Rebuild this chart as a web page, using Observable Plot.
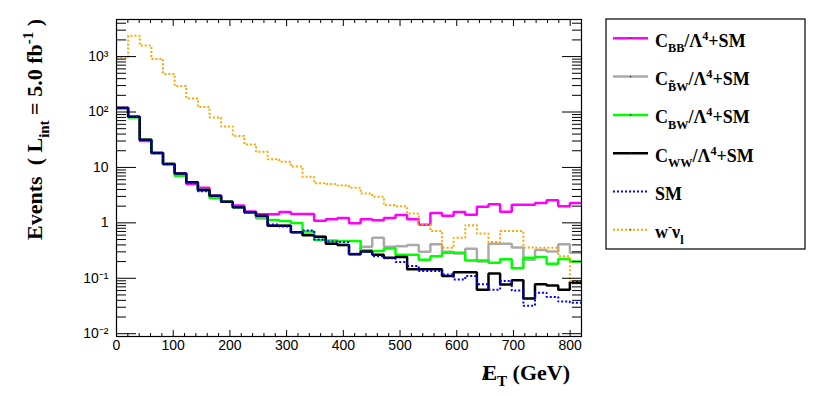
<!DOCTYPE html>
<html><head><meta charset="utf-8">
<script src="https://cdn.jsdelivr.net/npm/d3@7"></script>
<script src="https://cdn.jsdelivr.net/npm/@observablehq/plot@0.6"></script>
<style>body{margin:0;background:#fff} svg{display:block}</style>
</head><body><div id="chart"></div>
<script>
// Histogram binning (GeV): 40 bins from 0 to 820
const binStart = 0, binWidth = 20.5, nBins = 40;

// Events per bin
const cBB  = [121, 82, 30, 18.2, 11.5, 7.8, 5.0, 4.3, 3.07, 2.4, 2.05, 1.6, 1.43, 1.43, 1.57, 1.45, 1.45, 1.09, 1.16, 1.22, 0.98, 1.16, 1.12, 1.22, 1.38, 1.16, 0.92, 1.5, 1.35, 1.57, 1.4, 1.95, 2.17, 1.58, 2.13, 2.13, 2.27, 2.56, 2.0, 2.29];
const cBtW = [118, 82, 31.5, 18.5, 11.5, 7.8, 5.4, 3.9, 3.07, 2.4, 1.92, 1.55, 1.2, 0.9, 0.9, 0.68, 0.62, 0.56, 0.48, 0.4, 0.27, 0.37, 0.54, 0.37, 0.38, 0.4, 0.3, 0.41, 0.3, 0.28, 0.34, 0.2, 0.42, 0.42, 0.36, 0.215, 0.325, 0.305, 0.41, 0.29];
const cBW  = [118, 80, 31.5, 18.2, 11.5, 7.1, 5.4, 3.9, 2.8, 2.4, 1.92, 1.55, 1.26, 1.13, 1.08, 0.99, 0.7, 0.49, 0.47, 0.47, 0.47, 0.32, 0.31, 0.345, 0.265, 0.265, 0.217, 0.25, 0.29, 0.29, 0.21, 0.21, 0.19, 0.22, 0.152, 0.235, 0.242, 0.182, 0.222, 0.2];
const cWW  = [118, 82, 31.5, 18.2, 11.5, 7.8, 5.4, 3.9, 3.07, 2.4, 1.92, 1.55, 1.35, 0.89, 0.89, 0.68, 0.6, 0.56, 0.42, 0.4, 0.27, 0.305, 0.265, 0.234, 0.243, 0.145, 0.145, 0.145, 0.11, 0.128, 0.128, 0.062, 0.122, 0.077, 0.092, 0.043, 0.078, 0.074, 0.062, 0.085];
const sm   = [118, 82, 31.5, 18.2, 11.5, 7.8, 5.3, 3.7, 3.07, 2.4, 1.92, 1.55, 1.35, 0.93, 0.86, 0.68, 0.73, 0.5, 0.46, 0.45, 0.277, 0.3, 0.25, 0.23, 0.196, 0.166, 0.135, 0.135, 0.117, 0.095, 0.11, 0.078, 0.062, 0.089, 0.06, 0.032, 0.055, 0.046, 0.038, 0.036];
const wv   = [950, 2370, 1580, 908, 487, 295, 176, 123, 80, 55, 37, 26, 19.1, 14.1, 12.7, 10.4, 6.8, 5.2, 5.0, 4.7, 4.3, 3.37, 2.95, 2.08, 2.0, 1.47, 0.92, 0.71, 0.356, 0.54, 0.91, 0.64, 0.45, 0.71, 0.71, 0.36, 0.355, 0.355, 0.25, 0.089];

// Axis ticks
const xMajor = [0, 100, 200, 300, 400, 500, 600, 700, 800];
const xMajorLabels = ["0", "100", "200", "300", "400", "500", "600", "700", "800"];
const yMajor = [0.01, 0.1, 1, 10, 100, 1000];
const yMajorLabels = ["10\u207B\u00B2", "10\u207B\u00B9", "1", "10", "10\u00B2", "10\u00B3"];

const W = 830, H = 396, mL = 116, mR = 249, mT = 19, mB = 60;
const xDomain = [0, 820], yDomain = [0.0089, 4670];

const xMinor = d3.range(20, 820, 20).filter(v => v % 100 !== 0);
const yMinor = [];
for (let k = -2; k <= 3; k++) for (let m = 2; m <= 9; m++) { const v = m * Math.pow(10, k); if (v < yDomain[1]) yMinor.push(+v.toPrecision(3)); }

const edges = d3.range(nBins + 1).map(i => binStart + i * binWidth);
const steps = vals => edges.map((x, i) => ({x, y: vals[Math.min(i, vals.length - 1)]}));

const series = [
  {vals: cBB,  stroke: "#ff00ff", width: 2.5, dash: null, label: [["C"], ["BB", "sub"], ["/\u039B"], ["4", "sup"], ["+SM"]]},
  {vals: cBtW, stroke: "#aaaaaa", width: 2.5, dash: null, label: [["C"], ["B\u0303W", "sub"], ["/\u039B"], ["4", "sup"], ["+SM"]]},
  {vals: cBW,  stroke: "#00ff00", width: 2.5, dash: null, label: [["C"], ["BW", "sub"], ["/\u039B"], ["4", "sup"], ["+SM"]]},
  {vals: cWW,  stroke: "#000000", width: 2.5, dash: null, label: [["C"], ["WW", "sub"], ["/\u039B"], ["4", "sup"], ["+SM"]]},
  {vals: sm,   stroke: "#0000ff", width: 2,   dash: "2,2", label: [["SM"]]},
  {vals: wv,   stroke: "#ffa500", width: 2,   dash: "2,2", label: [["w"], ["-", "sup"], ["\u03BD"], ["l", "sub"]]}
];

const blank = () => "";
const chart = Plot.plot({
  width: W, height: H,
  marginLeft: mL, marginRight: mR, marginTop: mT, marginBottom: mB,
  x: {domain: xDomain},
  y: {type: "log", domain: yDomain},
  style: {fontFamily: "'Liberation Sans', Arial, Helvetica, sans-serif", fontSize: "14px", color: "#000", background: "#fff", overflow: "visible"},
  marks: [
    ...series.map(s => Plot.line(steps(s.vals), {x: "x", y: "y", curve: "step-after", stroke: s.stroke, strokeWidth: s.width, strokeDasharray: s.dash, strokeLinejoin: "miter", strokeLinecap: "butt", clip: true})),
    Plot.frame({stroke: "#000", strokeWidth: 1.2}),
    Plot.axisX(xMajor, {anchor: "bottom", tickSize: -6, tickPadding: 10, tickFormat: d => xMajorLabels[xMajor.indexOf(d)], label: null}),
    Plot.axisX(xMinor, {anchor: "bottom", tickSize: -3, tickFormat: blank, label: null}),
    Plot.axisX(xMajor, {anchor: "top", tickSize: -6, tickFormat: blank, label: null}),
    Plot.axisX(xMinor, {anchor: "top", tickSize: -3, tickFormat: blank, label: null}),
    Plot.axisY(yMajor, {anchor: "left", tickSize: -20, tickPadding: 28, tickFormat: d => yMajorLabels[yMajor.indexOf(d)], label: null}),
    Plot.axisY(yMinor, {anchor: "left", tickSize: -10, tickFormat: blank, label: null}),
    Plot.axisY(yMajor, {anchor: "right", tickSize: -20, tickFormat: blank, label: null}),
    Plot.axisY(yMinor, {anchor: "right", tickSize: -10, tickFormat: blank, label: null})
  ]
});
document.getElementById("chart").appendChild(chart);

const svg = d3.select(chart);
const serif = "'Liberation Serif', 'Times New Roman', Times, serif";

function richText(sel, parts, size) {
  let shift = 0;
  parts.forEach(([t, kind]) => {
    const target = kind === "sub" ? 0.3 * size : kind === "sup" ? -0.4 * size : 0;
    sel.append("tspan").attr("dy", target - shift).style("font-size", (kind ? size * 0.68 : size) + "px").text(t);
    shift = target;
  });
}

// Y-axis title
const yT = svg.append("text")
  .attr("transform", `translate(42,${mT}) rotate(-90)`)
  .attr("text-anchor", "end")
  .style("font-family", serif).style("font-weight", "bold").style("font-size", "22px").attr("fill", "#000");
richText(yT, [["Events  ( L"], ["int", "sub"], [" = 5.0 fb"], ["-1", "sup"], [" )"]], 22);

// X-axis title
const xT = svg.append("text")
  .attr("x", 570).attr("y", 380).attr("text-anchor", "end")
  .style("font-family", serif).style("font-weight", "bold").style("font-size", "22px").attr("fill", "#000");
xT.append("tspan").text("/");
xT.append("tspan").attr("dx", -6).text("E");
xT.append("tspan").attr("dy", 6).style("font-size", "15px").text("T");
xT.append("tspan").attr("dy", -6).text(" (GeV)");

// Legend
const lg = svg.append("g").attr("text-anchor", "start");
lg.append("rect").attr("x", 606).attr("y", 19).attr("width", 199).attr("height", 230)
  .attr("fill", "#fff").attr("stroke", "#000").attr("stroke-width", 1.2);
series.forEach((s, i) => {
  const cy = 38.3 + i * 38.3;
  lg.append("line").attr("x1", 613).attr("x2", 648).attr("y1", cy).attr("y2", cy)
    .attr("stroke", s.stroke).attr("stroke-width", s.width).attr("stroke-dasharray", s.dash);
  lg.append("circle").attr("cx", 630.5).attr("cy", cy).attr("r", 0.8).attr("fill", "#333");
  const t = lg.append("text").attr("x", 655).attr("y", cy + 8.5).attr("text-anchor", "start")
    .style("font-family", serif).style("font-weight", "bold").style("font-size", "18px").attr("fill", "#000");
  richText(t, s.label, 18);
});
</script>
</body></html>
